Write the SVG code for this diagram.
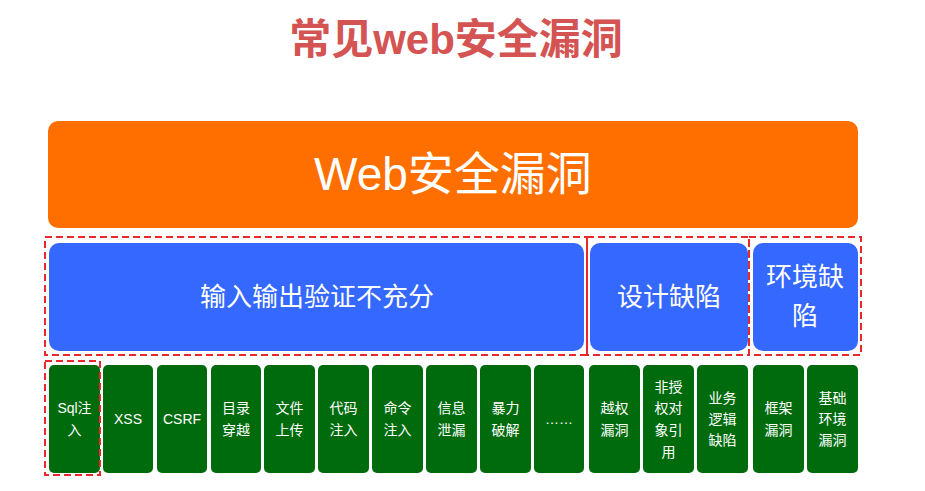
<svg xmlns="http://www.w3.org/2000/svg" width="925" height="491" viewBox="0 0 925 491">
<style>
.t{font-family:"Liberation Sans","Noto Sans CJK SC",sans-serif;fill:#fff;text-anchor:middle}
.title{font-family:"Liberation Sans","Noto Sans CJK SC",sans-serif;font-weight:bold;font-size:42px;fill:#d45353;text-anchor:middle}
.top{fill:#ff6f00}
.blue{fill:#3468ff}
.green{fill:#006b0c}
.dash{fill:none;stroke:#e8282b;stroke-width:2;stroke-dasharray:7 4}
.g{font-size:14px}
.b{font-size:26px}
</style>
<rect width="925" height="491" fill="#fff"/>
<text class="title" x="456" y="54">常见web安全漏洞</text>
<g id="root">
<rect class="top" x="48" y="121" width="810" height="107" rx="10"/>
<text class="t" x="453" y="190" font-size="46">Web安全漏洞</text>
</g>
<g id="input">
<rect class="blue" x="49" y="243" width="535" height="108" rx="10"/>
<text class="t b" x="317" y="306">输入输出验证不充分</text>
</g>
<g id="design">
<rect class="blue" x="590" y="243" width="158" height="108" rx="10"/>
<text class="t b" x="669" y="306">设计缺陷</text>
</g>
<g id="env">
<rect class="blue" x="753" y="243" width="105" height="108" rx="10"/>
<text class="t b" x="805" y="286">环境缺</text>
<text class="t b" x="805" y="325">陷</text>
</g>
<g id="sql"><rect class="green" x="49" y="365" width="51" height="108" rx="5"/><text class="t g" x="74.5" y="413">Sql注</text><text class="t g" x="74.5" y="435">入</text></g>
<g id="xss"><rect class="green" x="103" y="365" width="50" height="108" rx="5"/><text class="t g" x="128" y="424">XSS</text></g>
<g id="csrf"><rect class="green" x="157" y="365" width="50" height="108" rx="5"/><text class="t g" x="182" y="424">CSRF</text></g>
<g id="dir"><rect class="green" x="211" y="365" width="50" height="108" rx="5"/><text class="t g" x="236" y="413">目录</text><text class="t g" x="236" y="435">穿越</text></g>
<g id="upload"><rect class="green" x="264" y="365" width="51" height="108" rx="5"/><text class="t g" x="289.5" y="413">文件</text><text class="t g" x="289.5" y="435">上传</text></g>
<g id="code"><rect class="green" x="318" y="365" width="51" height="108" rx="5"/><text class="t g" x="343.5" y="413">代码</text><text class="t g" x="343.5" y="435">注入</text></g>
<g id="cmd"><rect class="green" x="372" y="365" width="51" height="108" rx="5"/><text class="t g" x="397.5" y="413">命令</text><text class="t g" x="397.5" y="435">注入</text></g>
<g id="info"><rect class="green" x="426" y="365" width="51" height="108" rx="5"/><text class="t g" x="451.5" y="413">信息</text><text class="t g" x="451.5" y="435">泄漏</text></g>
<g id="brute"><rect class="green" x="480" y="365" width="51" height="108" rx="5"/><text class="t g" x="505.5" y="413">暴力</text><text class="t g" x="505.5" y="435">破解</text></g>
<g id="more"><rect class="green" x="534" y="365" width="50" height="108" rx="5"/><text class="t g" x="559" y="424">……</text></g>
<g id="priv"><rect class="green" x="589" y="365" width="51" height="108" rx="5"/><text class="t g" x="614.5" y="413">越权</text><text class="t g" x="614.5" y="435">漏洞</text></g>
<g id="idor"><rect class="green" x="643" y="365" width="51" height="108" rx="5"/><text class="t g" x="668.5" y="392">非授</text><text class="t g" x="668.5" y="413">权对</text><text class="t g" x="668.5" y="435">象引</text><text class="t g" x="668.5" y="457">用</text></g>
<g id="logic"><rect class="green" x="697" y="365" width="51" height="108" rx="5"/><text class="t g" x="722.5" y="403">业务</text><text class="t g" x="722.5" y="424">逻辑</text><text class="t g" x="722.5" y="445">缺陷</text></g>
<g id="framework"><rect class="green" x="753" y="365" width="51" height="108" rx="5"/><text class="t g" x="778.5" y="413">框架</text><text class="t g" x="778.5" y="435">漏洞</text></g>
<g id="base"><rect class="green" x="807" y="365" width="51" height="108" rx="5"/><text class="t g" x="832.5" y="403">基础</text><text class="t g" x="832.5" y="424">环境</text><text class="t g" x="832.5" y="445">漏洞</text></g>
<g id="connectors">
<rect class="dash" x="45" y="237" width="542" height="118"/>
<rect class="dash" x="587" y="237" width="162" height="118"/>
<rect class="dash" x="749" y="237" width="112" height="118"/>
<rect class="dash" x="45" y="361" width="55" height="114"/>
</g>
</svg>
